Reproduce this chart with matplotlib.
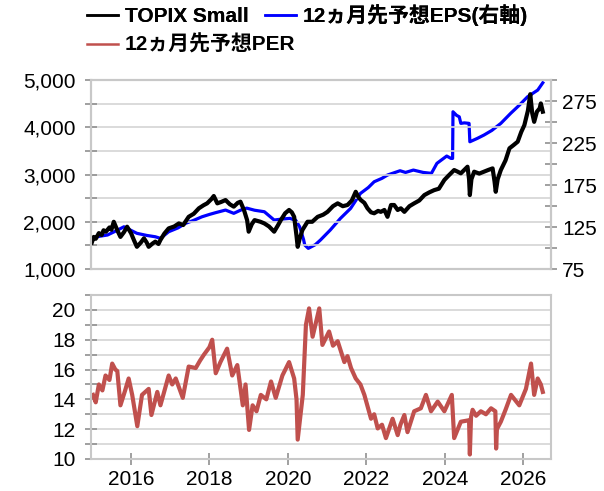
import matplotlib
matplotlib.use('Agg')
from matplotlib import pyplot as plt
from matplotlib.lines import Line2D
from matplotlib.ticker import MultipleLocator, FuncFormatter, FixedLocator
from matplotlib.font_manager import FontProperties

plt.rcParams['font.family'] = ['Liberation Sans', 'Noto Sans CJK JP']

# TOPIX Small (left axis), decimal year / index level
topix_x = [2015.00, 2015.05, 2015.10, 2015.18, 2015.25, 2015.30, 2015.36, 2015.45, 2015.50, 2015.56,
           2015.65, 2015.73, 2015.82, 2015.90, 2016.00, 2016.08, 2016.15, 2016.25, 2016.33, 2016.40,
           2016.45, 2016.55, 2016.62, 2016.70, 2016.75, 2016.85, 2016.96, 2017.10, 2017.22, 2017.33,
           2017.47, 2017.60, 2017.73, 2017.85, 2017.94, 2018.05, 2018.11, 2018.20, 2018.30, 2018.41,
           2018.52, 2018.62, 2018.72, 2018.79, 2018.88, 2018.96, 2019.00, 2019.08, 2019.15, 2019.30,
           2019.40, 2019.52, 2019.65, 2019.75, 2019.82, 2019.93, 2020.03, 2020.10, 2020.16, 2020.22,
           2020.25, 2020.30, 2020.37, 2020.50, 2020.62, 2020.76, 2020.90, 2021.01, 2021.15, 2021.27,
           2021.40, 2021.52, 2021.63, 2021.73, 2021.80, 2021.86, 2021.95, 2022.03, 2022.12, 2022.20,
           2022.30, 2022.37, 2022.46, 2022.54, 2022.63, 2022.71, 2022.80, 2022.88, 2022.97, 2023.10,
           2023.22, 2023.35, 2023.48, 2023.60, 2023.73, 2023.85, 2023.99, 2024.10, 2024.24, 2024.33,
           2024.41, 2024.50, 2024.58, 2024.62, 2024.64, 2024.68, 2024.75, 2024.88, 2025.00, 2025.12,
           2025.22, 2025.27, 2025.30, 2025.35, 2025.43, 2025.55, 2025.65, 2025.75, 2025.86, 2025.95,
           2026.03, 2026.12, 2026.18, 2026.23, 2026.28, 2026.35, 2026.42, 2026.45, 2026.50]
topix_v = [1560, 1680, 1640, 1760, 1720, 1820, 1790, 1880, 1830, 2000,
           1820, 1680, 1780, 1895, 1760, 1600, 1470, 1560, 1650, 1560,
           1470, 1540, 1580, 1530, 1615, 1750, 1860, 1900, 1965, 1930,
           2105, 2170, 2285, 2350, 2390, 2480, 2545, 2390, 2420, 2460,
           2370, 2320, 2400, 2425, 2250, 2035, 1790, 1950, 2035, 2000,
           1965, 1900, 1790, 1930, 2035, 2180, 2250, 2200, 2105, 1700,
           1470, 1640, 1825, 2000, 2000, 2105, 2150, 2210, 2330, 2390,
           2330, 2355, 2450, 2635, 2520, 2460, 2400, 2285, 2200, 2180,
           2230, 2210, 2250, 2105, 2355, 2355, 2250, 2285, 2210, 2330,
           2390, 2450, 2565, 2620, 2670, 2700, 2885, 2980, 3095, 3060,
           3025, 3100, 3165, 2900, 2565, 2900, 3060, 3020, 3060, 3100,
           3130, 2850, 2635, 2900, 3095, 3300, 3555, 3620, 3695, 3900,
           4045, 4350, 4700, 4300, 4115, 4330, 4400, 4505, 4330]

# 12-month forward EPS (right axis)
eps_x = [2015.00, 2015.20, 2015.40, 2015.60, 2015.82, 2016.00, 2016.15, 2016.40, 2016.62, 2016.75,
         2016.96, 2017.20, 2017.39, 2017.60, 2017.81, 2018.00, 2018.15, 2018.41, 2018.62, 2018.80,
         2018.95, 2019.15, 2019.40, 2019.65, 2019.85, 2020.05, 2020.20, 2020.30, 2020.40, 2020.43,
         2020.52, 2020.70, 2020.83, 2021.08, 2021.34, 2021.60, 2021.85, 2022.05, 2022.20, 2022.40,
         2022.54, 2022.86, 2023.00, 2023.20, 2023.45, 2023.66, 2023.80, 2024.05, 2024.16, 2024.20,
         2024.21, 2024.30, 2024.37, 2024.41, 2024.50, 2024.62, 2024.64, 2024.83, 2025.00, 2025.20,
         2025.43, 2025.68, 2025.90, 2026.11, 2026.37, 2026.50]
eps_v = [111.5, 114, 115.5, 120, 125.3, 121, 117.5, 115, 113.4, 111.5,
         119.4, 124, 129.4, 133, 137.2, 140, 142, 145.2, 141.3, 145.2,
         147.5, 145, 143.2, 133.3, 134.5, 135.3, 133, 125.3, 110, 103.6,
         99.6, 104, 109.5, 121.4, 135.3, 147.2, 165, 172, 178.9, 183,
         186.9, 192, 190, 192.8, 190, 188.9, 200.8, 209.5, 206.7, 206.7,
         262.2, 258, 256.2, 248.4, 249, 248.4, 226.5, 230.5, 234.5, 240,
         248.4, 260.3, 270, 280, 288, 296.7]

# 12-month forward PER
per_x = [2015.03, 2015.10, 2015.18, 2015.27, 2015.35, 2015.45, 2015.52, 2015.60, 2015.65, 2015.73,
         2015.85, 2015.94, 2016.03, 2016.16, 2016.28, 2016.45, 2016.52, 2016.67, 2016.75, 2016.96,
         2017.05, 2017.14, 2017.32, 2017.47, 2017.65, 2017.76, 2017.86, 2018.00, 2018.07, 2018.16,
         2018.28, 2018.45, 2018.58, 2018.71, 2018.85, 2018.92, 2019.01, 2019.10, 2019.20, 2019.31,
         2019.45, 2019.57, 2019.69, 2019.86, 2020.03, 2020.16, 2020.22, 2020.25, 2020.38, 2020.46,
         2020.54, 2020.63, 2020.80, 2020.88, 2021.05, 2021.15, 2021.27, 2021.44, 2021.52, 2021.61,
         2021.73, 2021.85, 2021.95, 2022.12, 2022.20, 2022.29, 2022.40, 2022.50, 2022.67, 2022.80,
         2022.87, 2022.97, 2023.05, 2023.22, 2023.39, 2023.52, 2023.65, 2023.82, 2023.99, 2024.18,
         2024.24, 2024.41, 2024.62, 2024.64, 2024.67, 2024.71, 2024.80, 2024.92, 2025.05, 2025.18,
         2025.29, 2025.31, 2025.33, 2025.43, 2025.55, 2025.69, 2025.90, 2026.07, 2026.20, 2026.28,
         2026.37, 2026.45, 2026.50]
per_v = [14.3, 13.8, 15.0, 14.6, 15.6, 15.3, 16.4, 16.0, 15.9, 13.6,
         14.6, 15.4, 14.3, 12.2, 14.3, 14.7, 12.95, 14.5, 13.6, 15.6,
         15.0, 15.4, 14.1, 16.2, 16.1, 16.6, 17.0, 17.5, 18.0, 15.75,
         16.5, 17.4, 15.6, 16.3, 13.6, 15.0, 11.95, 13.6, 13.2, 14.3,
         14.0, 15.2, 14.1, 15.6, 16.5, 15.4, 14.0, 11.3, 14.3, 19.0,
         20.1, 18.2, 20.1, 17.65, 18.55, 17.6, 17.9, 16.5, 16.9, 16.1,
         15.4, 15.0, 14.3, 12.7, 13.0, 12.05, 12.3, 11.4, 12.7, 11.6,
         12.3, 12.95, 11.8, 13.2, 13.4, 14.3, 13.2, 13.85, 13.2, 14.3,
         11.4, 12.5, 12.6, 10.3, 12.8, 13.3, 12.9, 13.2, 13.0, 13.4,
         13.2, 10.7, 12.0, 12.5, 13.3, 14.3, 13.6, 14.7, 16.4, 14.3,
         15.4, 15.0, 14.5]

year_ticks = [2016, 2018, 2020, 2022, 2024, 2026]

spine_c = '#c8c8c8'
grid_c = '#d4d4d4'
tick_c = '#909090'

fig = plt.figure(figsize=(6.04, 4.91), dpi=100)
ax = fig.add_axes([0.1507, 0.4521, 0.7616, 0.3849])
ax2 = ax.twinx()
axb = fig.add_axes([0.1507, 0.0652, 0.7616, 0.3340])

ax2.plot(eps_x, eps_v, color='#0000ff', lw=2.3)
ax.plot(topix_x, topix_v, color='black', lw=3.0)
ax.set_zorder(ax2.get_zorder() + 1)
ax.patch.set_visible(False)

axb.plot(per_x, per_v, color='#c0504d', lw=3.0)

xlim = (2014.98, 2026.71)
for a in (ax, ax2, axb):
    a.set_xlim(*xlim)
    for s in a.spines.values():
        s.set_color(spine_c)
        s.set_linewidth(1.5)

ax.set_ylim(1000, 5000)
ax.yaxis.set_major_locator(MultipleLocator(1000))
ax.yaxis.set_minor_locator(MultipleLocator(500))
ax.yaxis.set_major_formatter(FuncFormatter(lambda v, p: f'{v:,.0f}'))
ax.grid(True, which='both', axis='y', color=grid_c, lw=1.2)
ax.set_xticks([])

ax2.set_ylim(75, 300)
ax2.yaxis.set_major_locator(FixedLocator([75, 125, 175, 225, 275]))
ax2.yaxis.set_minor_locator(FixedLocator([100, 150, 200, 250, 300]))

axb.set_ylim(10, 21)
axb.yaxis.set_major_locator(MultipleLocator(2))
axb.yaxis.set_minor_locator(MultipleLocator(1))
axb.grid(True, which='both', axis='y', color=grid_c, lw=1.2)
axb.set_axisbelow(True)
axb.set_xticks(year_ticks)
axb.set_xticklabels([str(y) for y in year_ticks])

for a in (ax, ax2, axb):
    a.tick_params(axis='both', which='both', direction='inout', length=8, width=1.2,
                  color=tick_c, labelsize=15, pad=4)
ax.tick_params(axis='y', pad=7)
axb.tick_params(axis='y', pad=7)

leg_font = FontProperties(family=['Liberation Sans', 'Noto Sans CJK JP'], weight='bold', size=15)
h_topix = Line2D([], [], color='black', lw=1.8)
h_eps = Line2D([], [], color='#0000ff', lw=1.8)
h_per = Line2D([], [], color='#c0504d', lw=1.8)
leg_kw = dict(loc='upper left', frameon=False, prop=leg_font, handlelength=1.5,
              handletextpad=0.3, columnspacing=0.8, borderpad=0.2, borderaxespad=0)
leg1 = fig.legend([h_topix, h_eps], ['TOPIX Small', '12ヵ月先予想EPS(右軸)'], ncol=2,
                  bbox_to_anchor=(0.1375, 0.999), **leg_kw)
fig.add_artist(leg1)
fig.legend([h_per], ['12ヵ月先予想PER'], bbox_to_anchor=(0.1375, 0.938), **leg_kw)

fig.savefig('out.png', dpi=100)
